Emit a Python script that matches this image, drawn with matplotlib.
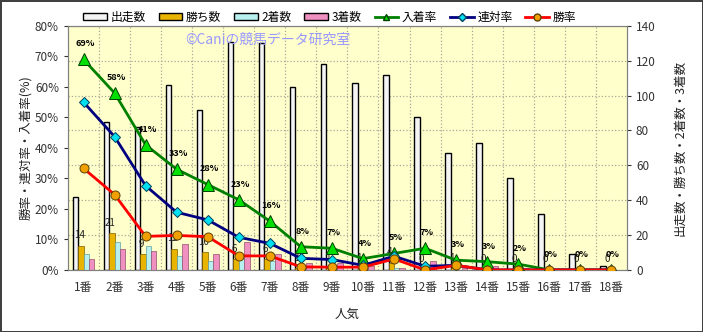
import numpy as np
import matplotlib
matplotlib.use("Agg")
import matplotlib.pyplot as plt
from matplotlib.lines import Line2D
from matplotlib.patches import Patch

plt.rcParams['font.family'] = ['Noto Sans CJK JP', 'DejaVu Sans']

# data
cats = [f"{i}番" for i in range(1, 19)]
runs = [42, 85, 82, 106, 92, 131, 130, 105, 118, 107, 112, 88, 67, 73, 53, 32, 9, 2]
wins = [14, 21, 9, 12, 10, 6, 6, 1, 1, 1, 4, 0, 1, 0, 0, 0, 0, 0]
seconds = [9, 16, 14, 8, 5, 8, 5, 3, 3, 1, 1, 1, 0, 0, 0, 0, 0, 0]
thirds = [6, 12, 11, 15, 9, 16, 9, 4, 4, 2, 1, 5, 1, 2, 1, 0, 0, 0]
place_rate = [69, 58, 41, 33, 28, 23, 16, 7.6, 7.1, 3.7, 5.4, 7.1, 3.2, 2.7, 1.9, 0, 0, 0]
rentai_rate = [55, 43.7, 27.6, 18.9, 16.4, 10.7, 8.7, 3.8, 3.4, 1.5, 4.5, 1.2, 1.5, 0, 0, 0, 0, 0]
win_rate = [33.3, 24.7, 11.0, 11.3, 10.9, 4.6, 4.6, 1.0, 0.9, 0.9, 3.6, 0, 1.5, 0, 0, 0, 0, 0]

x = np.arange(len(cats))
w = 0.175

fig = plt.figure(figsize=(7.03, 3.32), dpi=100, facecolor='white',
                 edgecolor='#404040', linewidth=2)
ax2 = fig.add_axes([0.0967, 0.187, 0.795, 0.735])
ax = ax2.twinx()
# lines on top of bars
ax.set_zorder(ax2.get_zorder() + 1)
ax.patch.set_visible(False)
ax2.set_facecolor('#ffffcc')

# ax2 holds counts on the right, ax holds rates on the left
ax2.yaxis.tick_right()
ax2.yaxis.set_label_position('right')
ax.yaxis.tick_left()
ax.yaxis.set_label_position('left')

ax2.bar(x - 1.5 * w, runs, w, color='#f4f4f4', edgecolor='black', linewidth=1.0, zorder=3)
ax2.bar(x - 0.5 * w, wins, w, color='#e8b400', edgecolor='#806000', linewidth=0.5, zorder=3)
ax2.bar(x + 0.5 * w, seconds, w, color='#b8f0f0', edgecolor='#60a0a0', linewidth=0.5, zorder=3)
ax2.bar(x + 1.5 * w, thirds, w, color='#f090c0', edgecolor='#905070', linewidth=0.5, zorder=3)

for xi, v in zip(x, wins):
    ax2.annotate(str(v), (xi - 0.5 * w, v), xytext=(-1, 4), textcoords='offset points',
                 ha='center', va='bottom', fontsize=7, color='#222222', zorder=4)

ax.plot(x, place_rate, color='#008000', lw=2, marker='^', ms=8,
        mfc='#00e000', mec='#004000', mew=0.7, zorder=5)
ax.plot(x, rentai_rate, color='#000080', lw=2, marker='D', ms=5,
        mfc='#00e0f0', mec='#004060', mew=0.7, zorder=6)
ax.plot(x, win_rate, color='#ff0000', lw=2, marker='o', ms=6.5,
        mfc='#f0a000', mec='#604000', mew=0.7, zorder=7)

for xi, v in zip(x, place_rate):
    ax.annotate(f"{v:.0f}%", (xi, v), xytext=(1, 8), textcoords='offset points',
                ha='center', va='bottom', fontsize=6.5, fontweight='bold', color='black')

ax2.set_xlim(-0.5, len(cats) - 0.5)
ax2.set_ylim(0, 140)
ax.set_ylim(0, 80)
ax2.set_yticks(np.arange(0, 141, 20))
ax.set_yticks(np.arange(0, 81, 10))
ax.set_yticklabels([f"{t}%" for t in range(0, 81, 10)])
ax2.set_xticks(x)
ax2.set_xticklabels(cats)
ax2.set_xticks(np.arange(0.5, len(cats) - 0.5, 1), minor=True)
ax2.tick_params(axis='x', which='both', length=0, labelsize=8.5, colors='#333333', pad=8)
ax2.tick_params(axis='y', labelsize=8.5, colors='#333333', length=3)
ax.tick_params(axis='y', labelsize=8.5, colors='#333333', length=3)

ax2.grid(True, axis='y', which='major', color='#a8a898', linestyle=':', lw=0.9, zorder=0)
ax2.grid(True, axis='x', which='minor', color='#a8a898', linestyle=':', lw=0.9, zorder=0)
ax2.set_axisbelow(True)

for a in (ax, ax2):
    for s in a.spines.values():
        s.set_color('#808080')

ax.set_ylabel('勝率・連対率・入着率(%)', fontsize=9, color='#222222', labelpad=2)
ax2.set_ylabel('出走数・勝ち数・2着数・3着数', fontsize=9, color='#222222',
               rotation=90, labelpad=13)
ax2.set_xlabel('人気', fontsize=9, color='#222222', labelpad=10)

ax.text(0.21, 0.943, '©Caniの競馬データ研究室', transform=ax.transAxes,
        fontsize=10, color='#9898ff', ha='left', va='center', zorder=1)

handles = [
    Patch(facecolor='#f4f4f4', edgecolor='black', label='出走数'),
    Patch(facecolor='#e8b400', edgecolor='black', label='勝ち数'),
    Patch(facecolor='#b8f0f0', edgecolor='black', label='2着数'),
    Patch(facecolor='#f090c0', edgecolor='black', label='3着数'),
    Line2D([], [], color='#008000', lw=2, marker='^', ms=5, mfc='#00e000', mec='#004000', label='入着率'),
    Line2D([], [], color='#000080', lw=2, marker='D', ms=4, mfc='#00e0f0', mec='#004060', label='連対率'),
    Line2D([], [], color='#ff0000', lw=2, marker='o', ms=5, mfc='#f0a000', mec='#604000', label='勝率'),
]
fig.legend(handles=handles, loc='center', bbox_to_anchor=(0.469, 0.948), ncol=7,
           frameon=False, fontsize=8.5, handlelength=2.0, handleheight=0.5,
           handletextpad=0.3, columnspacing=1.1)

fig.savefig('out.png', dpi=100)
